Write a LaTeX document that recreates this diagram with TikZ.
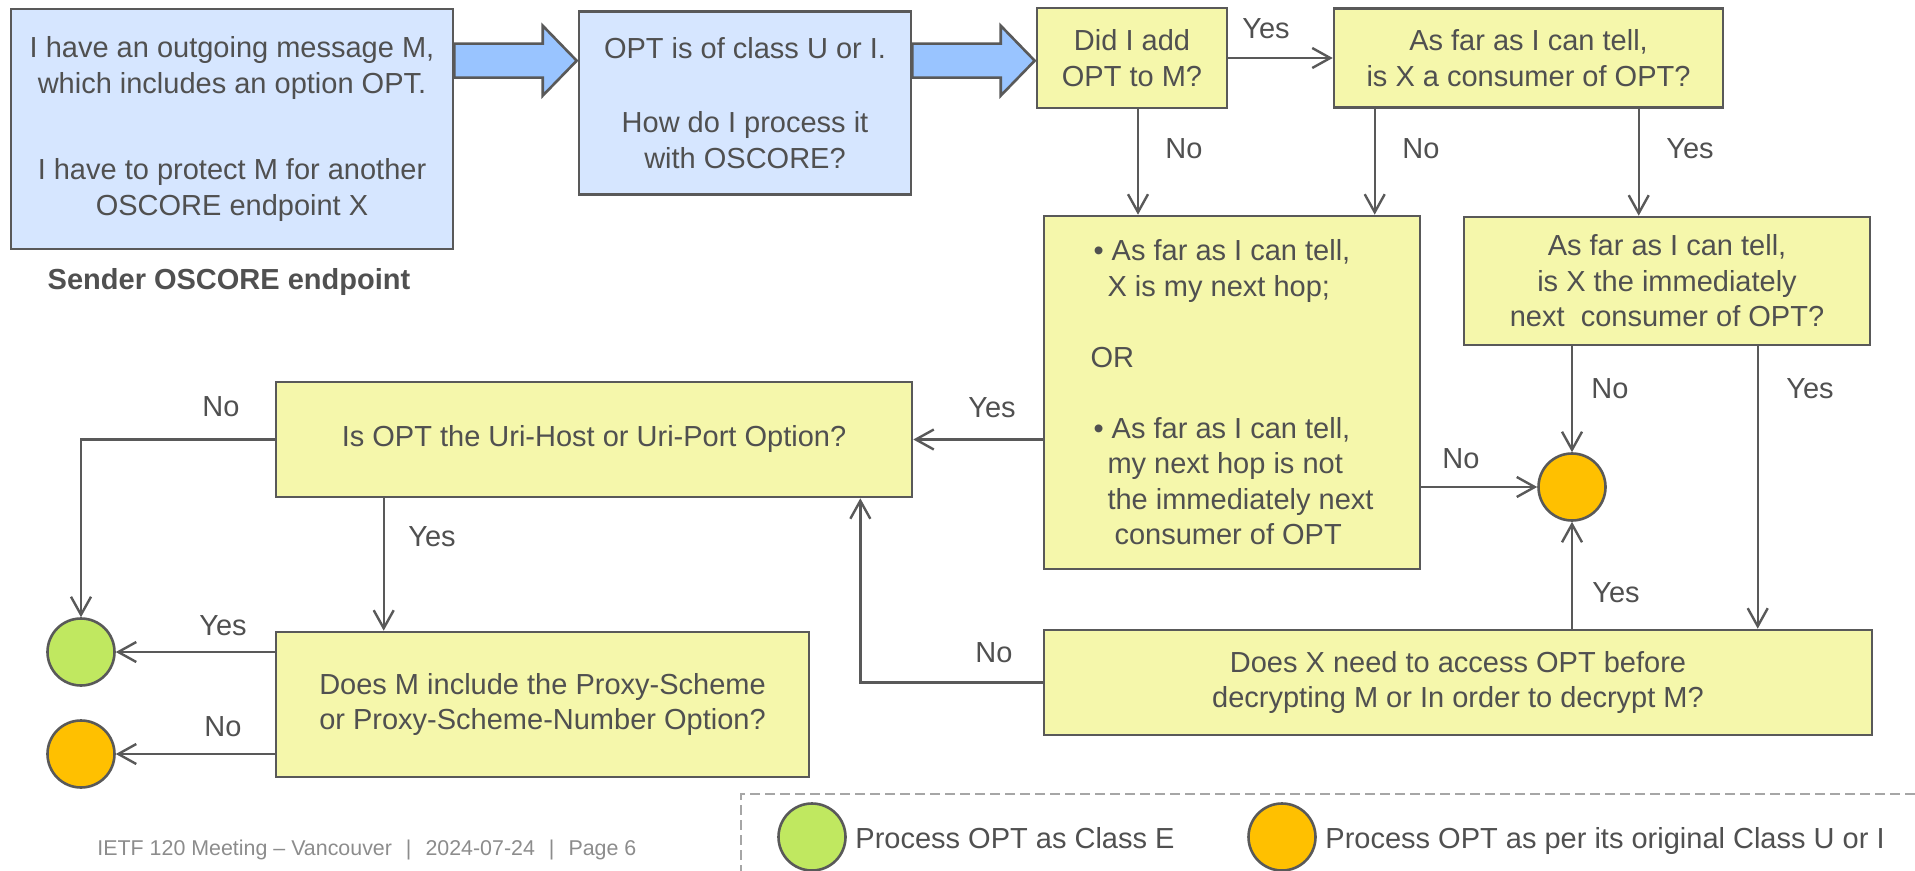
\documentclass[tikz,border=0pt]{standalone}
\usepackage{fontspec}
\setmainfont{Liberation Sans}
\usetikzlibrary{arrows.meta,calc}

\definecolor{ink}{HTML}{595959}
\definecolor{txt}{HTML}{505050}
\definecolor{boxblue}{HTML}{D6E6FF}
\definecolor{boxyellow}{HTML}{F5F7AB}
\definecolor{arrowblue}{HTML}{99C4FF}
\definecolor{okgreen}{HTML}{C0E860}
\definecolor{keeporange}{HTML}{FFC000}
\definecolor{footgray}{HTML}{8C8C8C}
\definecolor{framegray}{HTML}{A6A6A6}

\begin{document}
\begin{tikzpicture}[x=0.5pt,y=-0.5pt,
  every node/.style={font=\fontsize{14.5pt}{17.75pt}\selectfont, text=txt},
  box/.style={draw=ink, line width=1.3pt, align=center, inner sep=0pt},
  startbox/.style={box, fill=boxblue},
  qbox/.style={box, fill=boxyellow},
  endpt/.style={circle, draw=ink, line width=1.3pt, minimum size=33.5pt, inner sep=0pt},
  classE/.style={endpt, fill=okgreen},
  classUI/.style={endpt, fill=keeporange},
  arr/.style={draw=ink, line width=1.2pt, -{Straight Barb[length=9pt,width=10pt]}},
  blockarrow/.style={draw=ink, line width=1.3pt, fill=arrowblue, line join=miter},
  lbl/.style={inner sep=0pt}
]
\useasboundingbox (0,0) rectangle (1915,871);

% decision boxes
\node[startbox, minimum width=221pt, minimum height=120pt] (b1) at (232,129)
  {I have an outgoing message M,\\which includes an option OPT.\\[25.5pt]I have to protect M for another\\OSCORE endpoint X};
\node[startbox, minimum width=166pt, minimum height=91.5pt] (b2) at (745,103)
  {OPT is of class U or I.\\[19.5pt]How do I process it\\with OSCORE?};
\node[qbox, minimum width=95pt, minimum height=50pt] (b3) at (1132,58)
  {Did I add\\OPT to M?};
\node[qbox, minimum width=194.5pt, minimum height=49.5pt] (b4) at (1528.5,58)
  {As far as I can tell,\\is X a consumer of OPT?};
\node[qbox, minimum width=188pt, minimum height=176.5pt, align=left] (b5) at (1232,392.5)
  {\hspace{1.5pt}\textbullet\ As far as I can tell,\\
   \hspace{8.5pt}X is my next hop;\\[17.75pt]
   OR\\[17.75pt]
   \hspace{1.5pt}\textbullet\ As far as I can tell,\\
   \hspace{8.5pt}my next hop is not\\
   \hspace{8.5pt}the immediately next\\
   \hspace{12pt}consumer of OPT};
\node[qbox, minimum width=203pt, minimum height=64pt] (b6) at (1667,281)
  {As far as I can tell,\\is X the immediately\\next\ \ consumer of OPT?};
\node[qbox, minimum width=318pt, minimum height=57.5pt] (b7) at (594,439.5)
  {Is OPT the Uri-Host or Uri-Port Option?};
\node[qbox, minimum width=414pt, minimum height=52.5pt] (b8) at (1458,682.5)
  {Does X need to access OPT before\\decrypting M or In order to decrypt M?};
\node[qbox, minimum width=266.5pt, minimum height=72.5pt] (b9) at (542.5,704.5)
  {Does M include the Proxy-Scheme\\or Proxy-Scheme-Number Option?};

\node[lbl, font=\bfseries\fontsize{14.5pt}{17.75pt}\selectfont] (sender) at (229,282) {Sender OSCORE endpoint};

% outcomes
\node[classUI] (c1) at (1572,487) {};
\node[classE]  (c2) at (81,652) {};
\node[classUI] (c3) at (81,754) {};

% block arrows between the first boxes
\draw[blockarrow] ($(b1.north east)+(0,36)$)
  -- ($(b2.north west |- b1.north east)+(-35,36)$)
  -- ($(b2.north west |- b1.north east)+(-35,18)$)
  -- ($(b2.north west |- b1.north east)+(-1,53)$)
  -- ($(b2.north west |- b1.north east)+(-35,88)$)
  -- ($(b2.north west |- b1.north east)+(-35,70)$)
  -- ($(b1.north east)+(0,70)$) -- cycle;
\draw[blockarrow] ($(b2.north east |- b1.north east)+(0,36)$)
  -- ($(b3.north west |- b1.north east)+(-35,36)$)
  -- ($(b3.north west |- b1.north east)+(-35,18)$)
  -- ($(b3.north west |- b1.north east)+(-1,53)$)
  -- ($(b3.north west |- b1.north east)+(-35,88)$)
  -- ($(b3.north west |- b1.north east)+(-35,70)$)
  -- ($(b2.north east |- b1.north east)+(0,70)$) -- cycle;

% connectors
\coordinate (s3) at ($(b3.south)+(6,0)$);
\coordinate (s4n) at ($(b4.south west)+(42,0)$);
\coordinate (s4y) at ($(b4.south west)+(306,0)$);
\coordinate (s6y) at ($(b6.south west)+(295,0)$);
\coordinate (s7y) at ($(b7.south west)+(109,0)$);
\coordinate (t7) at ($(b7.south east)+(-53,0)$);

\draw[arr] (b3.east) -- (b3.east -| b4.west);
\draw[arr] (s3) -- (s3 |- b5.north);
\draw[arr] (s4n) -- (s4n |- b5.north);
\draw[arr] (s4y) -- (s4y |- b6.north);
\draw[arr] (b6.south -| c1) -- (c1.north);
\draw[arr] (s6y) -- (s6y |- b8.north);
\draw[arr] (b5.east |- c1) -- (c1.west);
\draw[arr] (b8.north -| c1) -- (c1.south);
\draw[arr] (b5.west |- b7) -- (b7.east);
\draw[arr] (b8.west) -| (t7);
\draw[arr] (b7.west) -| (c2.north);
\draw[arr] (s7y) -- (s7y |- b9.north);
\draw[arr] (b9.west |- c2) -- (c2.east);
\draw[arr] (b9.west |- c3) -- (c3.east);

% branch labels
\node[lbl] (y34) at (1266,29) {Yes};
\node[lbl] (n35) at (1184,149) {No};
\node[lbl] (n45) at (1421,149) {No};
\node[lbl] (y46) at (1690,149) {Yes};
\node[lbl] (n61) at (1610,389) {No};
\node[lbl] (y68) at (1810,389) {Yes};
\node[lbl] (n51) at (1461,459) {No};
\node[lbl] (y81) at (1616,593) {Yes};
\node[lbl] (y57) at (992,408) {Yes};
\node[lbl] (n87) at (994,653) {No};
\node[lbl] (n72) at (221,407) {No};
\node[lbl] (y79) at (432,537) {Yes};
\node[lbl] (y92) at (223,626) {Yes};
\node[lbl] (n93) at (223,727) {No};

% legend
\draw[framegray, line width=1pt, dash pattern=on 5pt off 2.5pt] (1915,794) -- (741,794) -- (741,871);
\node[classE]  (lg) at (812,837) {};
\node[classUI] (lo) at (1282,837) {};
\node[lbl, anchor=base west] (lgt) at (855,848) {Process OPT as Class E};
\node[lbl, anchor=base west] (lot) at (1325,848) {Process OPT as per its original Class U or I};

% footer
\node[lbl, anchor=west, text=footgray, font=\fontsize{10.7pt}{12pt}\selectfont] (foot) at (97,850)
  {IETF 120 Meeting – Vancouver\hspace{7pt}|\hspace{7pt}2024-07-24\hspace{7pt}|\hspace{7pt}Page 6};
\end{tikzpicture}
\end{document}
